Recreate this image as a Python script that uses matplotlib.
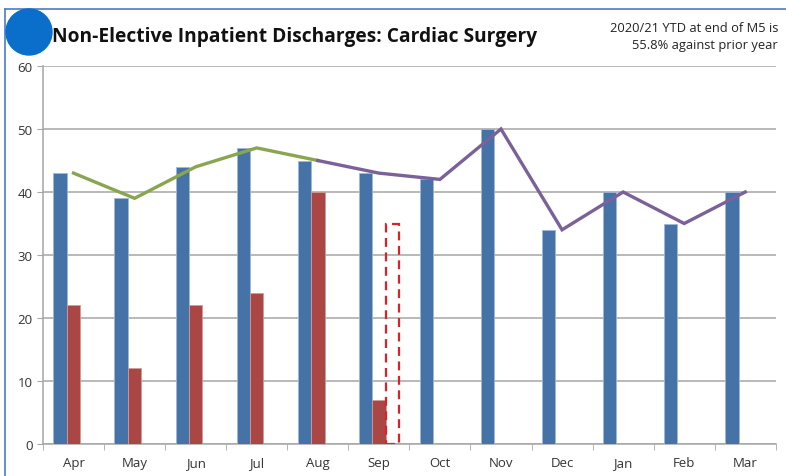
import matplotlib
matplotlib.use("Agg")
import matplotlib.pyplot as plt
from matplotlib.patches import Ellipse
import numpy as np

months = ["Apr", "May", "Jun", "Jul", "Aug", "Sep", "Oct", "Nov", "Dec", "Jan", "Feb", "Mar"]
prior_year = [43, 39, 44, 47, 45, 43, 42, 50, 34, 40, 35, 40]
current_year = [22, 12, 22, 24, 40, 7]
current_forecast = [None] * 5 + [35]  # dashed outline bar for Sep
green_line = [43, 39, 44, 47, 45]      # Apr-Aug
purple_line = [45, 43, 42, 50, 34, 40, 35, 40]  # Aug-Mar
yticks = [0, 10, 20, 30, 40, 50, 60]
title = "Non-Elective Inpatient Discharges: Cardiac Surgery"
note = "2020/21 YTD at end of M5 is\n55.8% against prior year"

BLUE = "#4572A7"
RED = "#AA4643"
GREEN = "#89A54E"
PURPLE = "#7A6199"

plt.rcParams['font.family'] = ['Open Sans', 'DejaVu Sans']

fig = plt.figure(figsize=(7.86, 4.77), dpi=100)
ax = fig.add_axes([0.0547, 0.0671, 0.9323, 0.7924])

x = np.arange(len(months))
w = 0.22
ax.bar(x - w, prior_year, width=w, color=BLUE, edgecolor="#9fb7d6", linewidth=0.6, zorder=3)
xc = x[:len(current_year)]
ax.bar(xc, current_year, width=w, color=RED, edgecolor="#d09a98", linewidth=0.6, zorder=3)
for i, v in enumerate(current_forecast):
    if v is not None:
        ax.bar(x[i] + w, v, width=w, fill=False, edgecolor="#D9232A", linewidth=1.6,
               linestyle=(0, (4, 2.5)), zorder=3)

ax.plot(x[:len(green_line)], green_line, color=GREEN, linewidth=2.4, zorder=4,
        solid_joinstyle="miter")
ax.plot(x[4:4 + len(purple_line)], purple_line, color=PURPLE, linewidth=2.4, zorder=4,
        solid_joinstyle="miter")

ax.set_xlim(-0.5, len(months) - 0.5)
ax.set_ylim(0, 60)
ax.set_yticks(yticks)
ax.yaxis.grid(True, color="#a6a6a6", linewidth=1.1, zorder=0)
ax.set_xticks(x)
ax.set_xticklabels(months, fontsize=9.5, color="#333333")
ax.set_xticks(np.arange(-0.5, len(months), 1), minor=True)
ax.tick_params(axis="x", which="major", length=0, pad=9)
ax.tick_params(axis="x", which="minor", length=4, color="#a6a6a6", direction="out")
ax.tick_params(axis="y", length=4, color="#a6a6a6", labelsize=9.5, labelcolor="#333333")
for s in ["top", "right"]:
    ax.spines[s].set_visible(False)
for s in ["left", "bottom"]:
    ax.spines[s].set_color("#a6a6a6")
    ax.spines[s].set_linewidth(1.1)

# Title, circle, note
fig.text(52 / 786, 1 - 37 / 477, title, fontsize=13.8, fontweight="bold", va="center",
         ha="left", color="#111111")
fig.text(778 / 786, 1 - 37 / 477, note, fontsize=9.3, va="center", ha="right",
         color="#222222", linespacing=1.35)
circ = Ellipse((29 / 786, 1 - 33 / 477), 46 / 786, 46 / 477, transform=fig.transFigure,
               color="#0A6FCB", zorder=10)
fig.patches.append(circ)

# Blue frame lines
fig.add_artist(plt.Line2D([5 / 786, 5 / 786], [0, 1 - 10 / 477], transform=fig.transFigure,
                          color="#4A7CC9", linewidth=1.2))
fig.add_artist(plt.Line2D([5 / 786, 1], [1 - 10 / 477, 1 - 10 / 477], transform=fig.transFigure,
                          color="#4A7CC9", linewidth=1.2))

fig.savefig("out.png", dpi=100)
